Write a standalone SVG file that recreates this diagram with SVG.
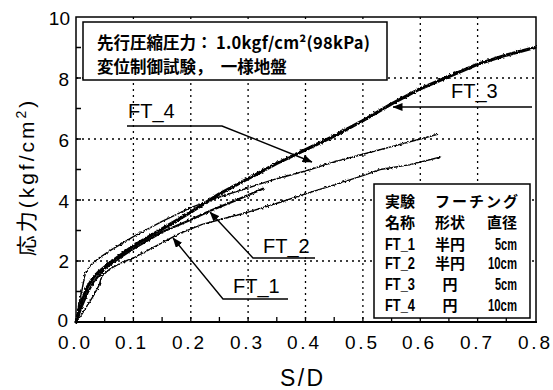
<svg xmlns="http://www.w3.org/2000/svg" width="553" height="390" viewBox="0 0 553 390">
<style>
.grid{stroke:#000;stroke-width:1.3;stroke-dasharray:2 4;fill:none}
.tick{stroke:#000;stroke-width:1.3}
.num{font-family:"Liberation Sans",Arial,sans-serif;font-size:19px;fill:#000}
.lbl{font-family:"Liberation Sans",Arial,sans-serif;font-size:20px;fill:#000}
.jp{font-family:"Noto Sans CJK JP",sans-serif;font-weight:700;fill:#000}
.tab{font-family:"Liberation Sans","Noto Sans CJK JP",sans-serif;font-weight:700;font-size:15px;fill:#000}
.tl{font-size:16.5px}
.box{fill:#fff;stroke:#000;stroke-width:1.5}
.lead{fill:none;stroke:#000;stroke-width:1.4}
.c{fill:none;stroke:#000;stroke-linejoin:round;stroke-linecap:round}
</style>
<defs>
<marker id="ah" viewBox="0 0 10 8" refX="9.5" refY="4" markerWidth="10" markerHeight="8" markerUnits="userSpaceOnUse" orient="auto">
<path d="M0,0 L10,4 L0,8 z" fill="#000"/>
</marker>
<filter id="jag" filterUnits="userSpaceOnUse" x="0" y="0" width="553" height="390" color-interpolation-filters="sRGB">
<feTurbulence type="fractalNoise" baseFrequency="0.45" numOctaves="2" seed="4" result="n"/>
<feDisplacementMap in="SourceGraphic" in2="n" scale="3" xChannelSelector="R" yChannelSelector="G"/>
</filter>
</defs>
<rect width="553" height="390" fill="#fff"/>

<g id="grid">
<path class="grid" d="M76,261H536M76,200H536M76,139H536M76,78H536"/>
<path class="grid" d="M133.4,17V322M190.8,17V322M248.1,17V322M305.5,17V322M362.9,17V322M420.3,17V322M477.6,17V322"/>
</g>

<g id="curves" filter="url(#jag)">
<polyline id="curve-FT_1" class="c" stroke-width="1.4" points="76,322 81.7,314.4 87.5,305.2 93.2,296.1 99,285.4 101.8,276.3 110.4,268.6 121.9,262.5 133.4,258 150.6,248.8 179.3,233.6 202.2,224.4 225.2,218.3 248.1,212.2 282.6,201.5 305.5,193.9 334.2,184.8 362.9,175.6 380.1,169.5 408.8,164.9 439.8,157.3"/>
<polyline id="curve-FT_4" class="c" stroke-width="1.4" points="76,322 78.9,303.7 81.7,291.5 85.2,273.2 90.3,265.6 99,258 110.4,250.3 133.4,236.6 162.1,221.4 190.8,207.6 219.4,197 248.1,187.8 276.8,178.7 305.5,171 334.2,161.9 362.9,154.3 391.6,146.6 420.3,139 437.5,134.4"/>
<polyline id="curve-FT_2" class="c" stroke-width="2.2" points="76,322 81.7,306.8 87.5,293 93.2,282.4 104.7,268.6 121.9,256.4 133.4,248.8 162.1,232 190.8,219.8 210.3,210.7 236.7,200 263,188.7"/>
<polyline id="curve-FT_3" class="c" stroke-width="3.2" points="76,322 78.9,311.3 81.7,300.6 87.5,286.9 93.2,277.8 99,271.7 110.4,262.5 133.4,245.8 162.1,229 190.8,212.2 219.4,193.9 248.1,178.7 276.8,163.4 305.5,149.7 334.2,136 362.9,120.7 391.6,103.9 420.3,88.7 448.9,76.5 477.6,64.3 506.3,55.1 535,47.5"/>
</g>

<g id="axes">
<rect x="76" y="17" width="460" height="305" fill="none" stroke="#000" stroke-width="1.5"/>
<path d="M75,322H537" stroke="#000" stroke-width="2"/>
<path class="tick" d="M76,291.5h5M76,261h5M76,230.5h5M76,200h5M76,169.5h5M76,139h5M76,108.5h5M76,78h5M76,47.5h5"/>
<path class="tick" d="M104.7,322v-5M133.4,322v-5M162.1,322v-5M190.8,322v-5M219.4,322v-5M248.1,322v-5M276.8,322v-5M305.5,322v-5M334.2,322v-5M362.9,322v-5M391.6,322v-5M420.3,322v-5M448.9,322v-5M477.6,322v-5M506.3,322v-5"/>
<g class="num" text-anchor="end">
<text x="68" y="327">0</text>
<text x="69" y="268">2</text>
<text x="69" y="208">4</text>
<text x="69" y="147">6</text>
<text x="69" y="86">8</text>
<text x="70" y="25">10</text>
</g>
<g class="num">
<text x="58" y="349" textLength="32" lengthAdjust="spacing">0.0</text>
<text x="115" y="349" textLength="31" lengthAdjust="spacing">0.1</text>
<text x="172" y="349" textLength="32" lengthAdjust="spacing">0.2</text>
<text x="230" y="349" textLength="32" lengthAdjust="spacing">0.3</text>
<text x="287" y="349" textLength="32" lengthAdjust="spacing">0.4</text>
<text x="345" y="349" textLength="32" lengthAdjust="spacing">0.5</text>
<text x="402" y="349" textLength="32" lengthAdjust="spacing">0.6</text>
<text x="460" y="349" textLength="32" lengthAdjust="spacing">0.7</text>
<text x="518" y="349" textLength="32" lengthAdjust="spacing">0.8</text>
</g>
<text x="280" y="386" font-family="Liberation Sans, Arial, sans-serif" font-size="23" textLength="43" lengthAdjust="spacing">S/D</text>
<text transform="translate(34,177) rotate(-90)" text-anchor="middle" font-family="Liberation Sans, 'Noto Sans CJK JP', sans-serif" font-size="21" letter-spacing="3">応力(kgf/cm<tspan font-size="14" dy="-8">2</tspan><tspan dy="8">)</tspan></text>
</g>

<g id="condition-box">
<rect class="box" x="83" y="22" width="304" height="58"/>
<text class="jp" x="97" y="49" font-size="16.5">先行圧縮圧力：<tspan x="216" textLength="154" lengthAdjust="spacing">1.0kgf/cm²(98kPa)</tspan></text>
<text class="jp" x="97" y="73" font-size="16.5">変位制御試験，　一様地盤</text>
</g>

<g id="legend-table">
<rect class="box" x="374" y="184" width="156" height="134"/>
<text class="tab" x="385" y="207">実験</text>
<text class="tab" x="435" y="207" textLength="83" lengthAdjust="spacing">フーチング</text>
<text class="tab" x="385" y="228">名称</text>
<text class="tab" x="435" y="228">形状</text>
<text class="tab" x="487" y="228">直径</text>
<text class="tab tl" x="385" y="250" textLength="30" lengthAdjust="spacingAndGlyphs">FT_1</text>
<text class="tab" x="435" y="250">半円</text>
<text class="tab tl" x="517" y="250" text-anchor="end" textLength="22" lengthAdjust="spacingAndGlyphs">5cm</text>
<text class="tab tl" x="385" y="269" textLength="30" lengthAdjust="spacingAndGlyphs">FT_2</text>
<text class="tab" x="435" y="269">半円</text>
<text class="tab tl" x="517" y="269" text-anchor="end" textLength="29" lengthAdjust="spacingAndGlyphs">10cm</text>
<text class="tab tl" x="385" y="290" textLength="30" lengthAdjust="spacingAndGlyphs">FT_3</text>
<text class="tab" x="450" y="290" text-anchor="middle">円</text>
<text class="tab tl" x="517" y="290" text-anchor="end" textLength="22" lengthAdjust="spacingAndGlyphs">5cm</text>
<text class="tab tl" x="385" y="311" textLength="30" lengthAdjust="spacingAndGlyphs">FT_4</text>
<text class="tab" x="450" y="311" text-anchor="middle">円</text>
<text class="tab tl" x="517" y="311" text-anchor="end" textLength="29" lengthAdjust="spacingAndGlyphs">10cm</text>
</g>

<g id="connectors">
<polyline class="lead" points="127,126 222,126 312,162" marker-end="url(#ah)"/>
<polyline class="lead" points="532,107 393,107" marker-end="url(#ah)"/>
<polyline class="lead" points="315,258 253,258 210,212" marker-end="url(#ah)"/>
<polyline class="lead" points="288,299 223,299 173,238" marker-end="url(#ah)"/>
</g>

<g id="label-FT_4"><text class="lbl" x="128" y="118">FT_4</text></g>
<g id="label-FT_3"><text class="lbl" x="451" y="98">FT_3</text></g>
<g id="label-FT_2"><text class="lbl" x="263" y="253">FT_2</text></g>
<g id="label-FT_1"><text class="lbl" x="233" y="293">FT_1</text></g>
</svg>
